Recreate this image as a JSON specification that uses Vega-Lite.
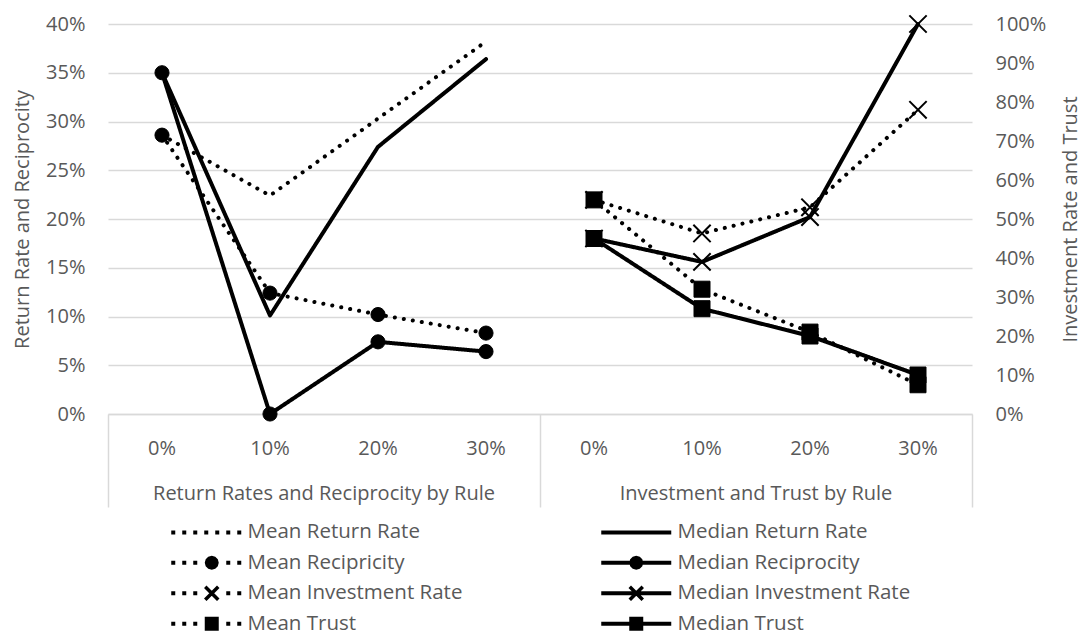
{
  "$schema": "https://vega.github.io/schema/vega-lite/v6.json",
  "width": 864,
  "height": 390,
  "autosize": {"type": "none"},
  "padding": {"left": 108, "top": 24, "right": 112, "bottom": 227},
  "background": "white",
  "config": {
    "view": {"stroke": null},
    "font": "Open Sans",
    "axis": {
      "labelFont": "Open Sans", "labelFontSize": 20, "labelColor": "#595959", "labelOverlap": false,
      "titleFont": "Open Sans", "titleFontSize": 20, "titleColor": "#595959", "titleFontWeight": "normal",
      "domain": false, "ticks": false, "grid": false
    }
  },
  "data": {"values": [
    {"key": "A|0%", "series": "Mean Return Rate", "value": 0.286},
    {"key": "A|10%", "series": "Mean Return Rate", "value": 0.224},
    {"key": "A|20%", "series": "Mean Return Rate", "value": 0.303},
    {"key": "A|30%", "series": "Mean Return Rate", "value": 0.382},
    {"key": "A|0%", "series": "Median Return Rate", "value": 0.35},
    {"key": "A|10%", "series": "Median Return Rate", "value": 0.101},
    {"key": "A|20%", "series": "Median Return Rate", "value": 0.274},
    {"key": "A|30%", "series": "Median Return Rate", "value": 0.364},
    {"key": "A|0%", "series": "Mean Recipricity", "value": 0.286},
    {"key": "A|10%", "series": "Mean Recipricity", "value": 0.124},
    {"key": "A|20%", "series": "Mean Recipricity", "value": 0.102},
    {"key": "A|30%", "series": "Mean Recipricity", "value": 0.083},
    {"key": "A|0%", "series": "Median Reciprocity", "value": 0.35},
    {"key": "A|10%", "series": "Median Reciprocity", "value": 0.0},
    {"key": "A|20%", "series": "Median Reciprocity", "value": 0.074},
    {"key": "A|30%", "series": "Median Reciprocity", "value": 0.064},
    {"key": "B|0%", "series": "Mean Investment Rate", "value": 0.549},
    {"key": "B|10%", "series": "Mean Investment Rate", "value": 0.463},
    {"key": "B|20%", "series": "Mean Investment Rate", "value": 0.53},
    {"key": "B|30%", "series": "Mean Investment Rate", "value": 0.78},
    {"key": "B|0%", "series": "Median Investment Rate", "value": 0.45},
    {"key": "B|10%", "series": "Median Investment Rate", "value": 0.39},
    {"key": "B|20%", "series": "Median Investment Rate", "value": 0.505},
    {"key": "B|30%", "series": "Median Investment Rate", "value": 1.0},
    {"key": "B|0%", "series": "Mean Trust", "value": 0.549},
    {"key": "B|10%", "series": "Mean Trust", "value": 0.32},
    {"key": "B|20%", "series": "Mean Trust", "value": 0.21},
    {"key": "B|30%", "series": "Mean Trust", "value": 0.075},
    {"key": "B|0%", "series": "Median Trust", "value": 0.45},
    {"key": "B|10%", "series": "Median Trust", "value": 0.27},
    {"key": "B|20%", "series": "Median Trust", "value": 0.2},
    {"key": "B|30%", "series": "Median Trust", "value": 0.1}
  ]},
  "resolve": {"scale": {"y": "independent"}, "axis": {"x": "independent"}},
  "layer": [
    {
      "layer": [
        {
          "transform": [{"filter": {"field": "series", "oneOf": ["Mean Return Rate", "Median Return Rate", "Mean Recipricity", "Median Reciprocity"]}}],
          "mark": {"type": "line", "strokeWidth": 4, "strokeCap": "round", "strokeJoin": "round", "color": "black"},
          "encoding": {
            "x": {"field": "key", "type": "nominal",
              "scale": {"type": "band", "domain": ["A|0%", "A|10%", "A|20%", "A|30%", "B|0%", "B|10%", "B|20%", "B|30%"], "paddingInner": 0, "paddingOuter": 0},
              "axis": {"orient": "bottom", "title": null, "labelExpr": "split(datum.value, '|')[1]", "labelAngle": 0, "labelPadding": 24, "domain": true, "domainColor": "#d9d9d9", "domainWidth": 1.5}},
            "y": {"field": "value", "type": "quantitative", "scale": {"domain": [0, 0.4], "nice": false},
              "axis": {"orient": "left", "values": [0, 0.05, 0.1, 0.15, 0.2, 0.25, 0.3, 0.35, 0.4], "format": ".0%", "grid": true, "gridColor": "#d9d9d9", "gridWidth": 1.5, "labelPadding": 23, "labelOverlap": false, "title": "Return Rate and Reciprocity", "titlePadding": 13}},
            "strokeDash": {"field": "series", "type": "nominal",
              "scale": {"domain": ["Mean Return Rate", "Median Return Rate", "Mean Recipricity", "Median Reciprocity", "Mean Investment Rate", "Median Investment Rate", "Mean Trust", "Median Trust"],
                        "range": [[0.1, 9], [1, 0], [0.1, 9], [1, 0], [0.1, 9], [1, 0], [0.1, 9], [1, 0]]},
              "legend": null}
          }
        },
        {
          "transform": [{"filter": {"field": "series", "oneOf": ["Mean Recipricity", "Median Reciprocity"]}}],
          "mark": {"type": "point", "shape": "circle", "filled": true, "color": "black", "stroke": "black", "strokeWidth": 1, "size": 200, "opacity": 1},
          "encoding": {
            "x": {"field": "key", "type": "nominal", "scale": {"type": "band", "paddingInner": 0, "paddingOuter": 0}},
            "y": {"field": "value", "type": "quantitative",
              "axis": {"orient": "left", "values": [0, 0.05, 0.1, 0.15, 0.2, 0.25, 0.3, 0.35, 0.4], "format": ".0%", "grid": true, "gridColor": "#d9d9d9", "gridWidth": 1.5, "labelPadding": 23, "labelOverlap": false, "title": "Return Rate and Reciprocity", "titlePadding": 13}}
          }
        }
      ]
    },
    {
      "resolve": {"axis": {"x": "independent"}},
      "layer": [
        {
          "transform": [{"filter": {"field": "series", "oneOf": ["Mean Investment Rate", "Median Investment Rate", "Mean Trust", "Median Trust"]}}],
          "mark": {"type": "line", "strokeWidth": 4, "strokeCap": "round", "strokeJoin": "round", "color": "black"},
          "encoding": {
            "x": {"field": "key", "type": "nominal", "scale": {"type": "band", "paddingInner": 0, "paddingOuter": 0},
              "axis": {"orient": "bottom", "title": null, "values": ["A|0%", "B|0%"], "bandPosition": 0, "ticks": true, "tickSize": 93, "tickColor": "#d9d9d9", "tickWidth": 1.5,
                "labelExpr": "datum.value == 'A|0%' ? 'Return Rates and Reciprocity by Rule' : 'Investment and Trust by Rule'",
                "labelOffset": 162, "labelPadding": -23.5, "labelLimit": 0, "labelAngle": 0, "labelOverlap": false, "domain": false}},
            "y": {"field": "value", "type": "quantitative", "scale": {"domain": [0, 1], "nice": false},
              "axis": {"orient": "right", "values": [0, 0.1, 0.2, 0.3, 0.4, 0.5, 0.6, 0.7, 0.8, 0.9, 1], "format": ".0%", "grid": false, "labelPadding": 23, "labelOverlap": false, "title": "Investment Rate and Trust", "titleAngle": 270, "titlePadding": 35}},
            "strokeDash": {"field": "series", "type": "nominal", "legend": null}
          }
        },
        {
          "layer": [
            {
              "transform": [{"filter": {"field": "series", "oneOf": ["Mean Investment Rate", "Median Investment Rate"]}}],
              "mark": {"type": "point", "shape": "M-1,-1L1,1M-1,1L1,-1", "filled": false, "stroke": "black", "strokeWidth": 2, "size": 300, "opacity": 1},
              "encoding": {
                "x": {"field": "key", "type": "nominal", "scale": {"type": "band", "paddingInner": 0, "paddingOuter": 0},
                  "axis": {"orient": "bottom", "title": null, "values": ["B|30%"], "bandPosition": 1, "ticks": true, "tickSize": 93, "tickColor": "#d9d9d9", "tickWidth": 1.5, "labels": false, "domain": false}},
                "y": {"field": "value", "type": "quantitative",
                  "axis": {"orient": "right", "values": [0, 0.1, 0.2, 0.3, 0.4, 0.5, 0.6, 0.7, 0.8, 0.9, 1], "format": ".0%", "grid": false, "labelPadding": 23, "labelOverlap": false, "title": "Investment Rate and Trust", "titleAngle": 270, "titlePadding": 35}}
              }
            },
            {
              "transform": [{"filter": {"field": "series", "oneOf": ["Mean Trust", "Median Trust"]}}],
              "mark": {"type": "point", "shape": "square", "filled": true, "color": "black", "stroke": "black", "strokeWidth": 1, "size": 256, "opacity": 1},
              "encoding": {
                "x": {"field": "key", "type": "nominal", "scale": {"type": "band", "paddingInner": 0, "paddingOuter": 0},
                  "axis": {"orient": "bottom", "title": null, "values": ["B|30%"], "bandPosition": 1, "ticks": true, "tickSize": 93, "tickColor": "#d9d9d9", "tickWidth": 1.5, "labels": false, "domain": false}},
                "y": {"field": "value", "type": "quantitative",
                  "axis": {"orient": "right", "values": [0, 0.1, 0.2, 0.3, 0.4, 0.5, 0.6, 0.7, 0.8, 0.9, 1], "format": ".0%", "grid": false, "labelPadding": 23, "labelOverlap": false, "title": "Investment Rate and Trust", "titleAngle": 270, "titlePadding": 35}}
              }
            }
          ]
        }
      ]
    },
    {
      "transform": [{"filter": {"field": "key", "oneOf": ["A|0%", "B|0%"]}}],
      "mark": {"type": "point", "filled": true, "color": "black", "size": 100, "opacity": 0},
      "encoding": {
        "shape": {"field": "series", "type": "nominal",
          "scale": {
            "domain": ["Mean Return Rate", "Mean Recipricity", "Mean Investment Rate", "Mean Trust", "Median Return Rate", "Median Reciprocity", "Median Investment Rate", "Median Trust"],
            "range": [
              "M-7,-0.4H-6.2V0.4H-7ZM-4.8,-0.4H-4V0.4H-4.8ZM-2.6,-0.4H-1.8V0.4H-2.6ZM-0.4,-0.4H0.4V0.4H-0.4ZM1.8,-0.4H2.6V0.4H1.8ZM4,-0.4H4.8V0.4H4ZM6.2,-0.4H7V0.4H6.2Z",
              "M-7,-0.4H-6.2V0.4H-7ZM-4.8,-0.4H-4V0.4H-4.8ZM-2.6,-0.4H-1.8V0.4H-2.6ZM4,-0.4H4.8V0.4H4ZM6.2,-0.4H7V0.4H6.2ZM2.5,0L2.312,0.7L1.8,1.212L1.1,1.4L0.4,1.212L-0.112,0.7L-0.3,0L-0.112,-0.7L0.4,-1.212L1.1,-1.4L1.8,-1.212L2.312,-0.7Z",
              "M-7,-0.4H-6.2V0.4H-7ZM-4.8,-0.4H-4V0.4H-4.8ZM-2.6,-0.4H-1.8V0.4H-2.6ZM4,-0.4H4.8V0.4H4ZM6.2,-0.4H7V0.4H6.2ZM0.05,-1.55L2.65,1.05L2.15,1.55L-0.45,-1.05ZM-0.45,1.05L2.15,-1.55L2.65,-1.05L0.05,1.55Z",
              "M-7,-0.4H-6.2V0.4H-7ZM-4.8,-0.4H-4V0.4H-4.8ZM-2.6,-0.4H-1.8V0.4H-2.6ZM4,-0.4H4.8V0.4H4ZM6.2,-0.4H7V0.4H6.2ZM-0.3,-1.4H2.5V1.4H-0.3Z",
              "M-7,-0.4H7V0.4H-7Z",
              "M-7,-0.4H7V0.4H-7ZM1.4,0L1.212,0.7L0.7,1.212L0,1.4L-0.7,1.212L-1.212,0.7L-1.4,0L-1.212,-0.7L-0.7,-1.212L0,-1.4L0.7,-1.212L1.212,-0.7Z",
              "M-7,-0.4H7V0.4H-7ZM-1.05,-1.55L1.55,1.05L1.05,1.55L-1.55,-1.05ZM-1.55,1.05L1.05,-1.55L1.55,-1.05L-1.05,1.55Z",
              "M-7,-0.4H7V0.4H-7ZM-1.4,-1.4H1.4V1.4H-1.4Z"
            ]},
          "legend": {
            "orient": "none", "legendX": 58, "legendY": 498, "columns": 2, "columnPadding": 133, "rowPadding": 9.5,
            "title": null, "padding": 0,
            "labelFont": "Open Sans", "labelFontSize": 20.5, "labelColor": "#595959", "labelLimit": 400,
            "labelOffset": 31, "symbolOffset": 30, "symbolSize": 100, "symbolOpacity": 1,
            "symbolFillColor": "black", "symbolStrokeWidth": 0
          }}
      }
    }
  ]
}
